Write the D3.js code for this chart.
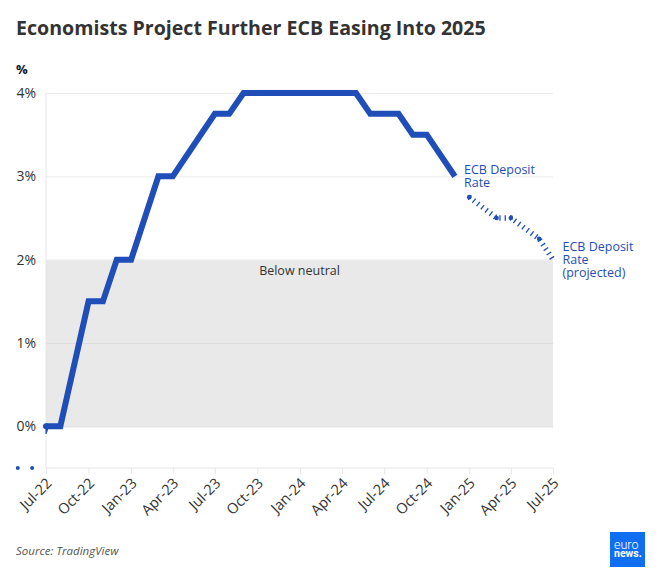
<!DOCTYPE html>
<html><head><meta charset="utf-8">
<script src="https://cdn.jsdelivr.net/npm/d3@7"></script>
<style>html,body{margin:0;padding:0;background:#fff}svg{display:block;font-family:"Open Sans",sans-serif}</style>
</head><body><svg id="c" width="661" height="577"></svg>
<script>
const months = ["2022-07","2022-08","2022-10","2022-11","2022-12","2023-01","2023-03","2023-04","2023-07","2023-08","2023-09","2024-05","2024-06","2024-08","2024-09","2024-10","2024-12"];
const rates = [0,0,1.5,1.5,2,2,3,3,3.75,3.75,4,4,3.75,3.75,3.5,3.5,3];
const projMonths = ["2025-01","2025-03","2025-04","2025-06","2025-07"];
const projRates = [2.75,2.5,2.5,2.25,2];
const projDots = ["2025-01","2025-03","2025-04","2025-06"];
const projDotRates = [2.75,2.5,2.5,2.25];
const strayMonths = ["2022-05","2022-06"];
const strayRates = [-0.5,-0.5];
const xTicks = ["2022-07","2022-10","2023-01","2023-04","2023-07","2023-10","2024-01","2024-04","2024-07","2024-10","2025-01","2025-04","2025-07"];
const yTicks = [0,1,2,3,4];
const parse = d3.timeParse("%Y-%m");
const fmt = d3.timeFormat("%b-%y");
const blue = "#1f4eb8";
const svg = d3.select("#c");
const x = d3.scaleUtc().domain([parse("2022-07"),parse("2025-07")]).range([46,553]);
const y = d3.scaleLinear().domain([-0.5,4]).range([468,93]);
svg.append("text").attr("x",16).attr("y",35).attr("font-size",19.6).attr("font-weight",700).attr("fill","#333").text("Economists Project Further ECB Easing Into 2025");
svg.append("text").attr("x",16).attr("y",74).attr("font-size",13).attr("font-weight",700).attr("fill","#111").text("%");
// neutral band
svg.append("rect").attr("x",x.range()[0]).attr("width",x.range()[1]-x.range()[0]).attr("y",y(2)).attr("height",y(0)-y(2)).attr("fill","#e9e9e9");
svg.append("text").attr("x",299.5).attr("y",275).attr("text-anchor","middle").attr("font-size",12.5).attr("fill","#333").text("Below neutral");
// y axis
const ya = svg.append("g").attr("transform",`translate(46,0)`).call(d3.axisLeft(y).tickValues(yTicks).tickFormat(d=>d+"%").tickSize(0).tickPadding(10));
ya.select(".domain").remove();
ya.selectAll("text").attr("font-family","Open Sans").attr("font-size",14).attr("fill","#333");
ya.selectAll("line").attr("x2",507).attr("stroke",d=>d===0?"#d8d8d8":(d===1?"#dcdcdc":"#ececec"));
svg.append("line").attr("x1",46).attr("x2",46).attr("y1",93).attr("y2",468).attr("stroke","#e6e6e6");
// x axis
const xa = svg.append("g").attr("transform","translate(0,468)").call(d3.axisBottom(x).tickValues(xTicks.map(parse)).tickFormat(fmt).tickSize(6).tickPadding(4));
xa.select(".domain").attr("stroke","#e6e6e6").attr("d","M46,0H553");
xa.selectAll("line").attr("stroke","#e6e6e6");
xa.selectAll("text").attr("font-family","Open Sans").attr("font-size",14.5).attr("fill","#333")
  .attr("text-anchor","end").attr("transform","translate(-7,3) rotate(-45)").attr("dy","0.6em").attr("dx","0");
// lines
const line = d3.line().x(d=>x(d[0])).y(d=>y(d[1]));
svg.append("clipPath").attr("id","plotClip").append("rect").attr("x",45.5).attr("y",420).attr("width",4).attr("height",14);
svg.append("path").attr("d",line([[parse(strayMonths[1]),strayRates[1]],[parse(months[0]),rates[0]]])).attr("fill","none").attr("stroke",blue).attr("stroke-width",6).attr("clip-path","url(#plotClip)");
svg.append("path").attr("d",line(months.map((m,i)=>[parse(m),rates[i]]))).attr("fill","none").attr("stroke",blue).attr("stroke-width",6);
svg.append("circle").attr("cx",x(parse(months[0]))).attr("cy",y(rates[0])).attr("r",3).attr("fill",blue);
svg.append("path").attr("d",line(projMonths.map((m,i)=>[parse(m),projRates[i]]))).attr("fill","none").attr("stroke",blue).attr("stroke-width",5.5).attr("stroke-dasharray","1.3 4");
svg.selectAll(".pd").data(projDots).join("circle").attr("class","pd").attr("cx",d=>x(parse(d))).attr("cy",(d,i)=>y(projDotRates[i])).attr("r",2.3).attr("fill",blue);
svg.selectAll(".st").data(strayMonths).join("circle").attr("class","st").attr("cx",d=>x(parse(d))).attr("cy",(d,i)=>y(strayRates[i])).attr("r",2).attr("fill",blue);
// labels
function label(px,py,rows){const t=svg.append("text").attr("x",px).attr("y",py).attr("font-size",12.5).attr("fill",blue);
 rows.forEach((r,i)=>t.append("tspan").attr("x",px).attr("dy",i?13:0).text(r));}
label(464,174,["ECB Deposit","Rate"]);
label(562.5,251,["ECB Deposit","Rate","(projected)"]);
svg.append("text").attr("x",16).attr("y",555).attr("font-size",11.5).attr("font-style","italic").attr("fill","#555").text("Source: TradingView");
// logo
svg.append("rect").attr("x",610).attr("y",532).attr("width",35).attr("height",35).attr("fill","#0f6ff0");
svg.append("text").attr("x",614).attr("y",549).attr("font-size",12.5).attr("fill","#fff").attr("font-family","Roboto").attr("font-weight",300).text("euro");
svg.append("text").attr("x",614).attr("y",557).attr("font-size",10.5).attr("fill","#fff").attr("font-family","Roboto").attr("font-weight",700).text("news.");
</script></body></html>
